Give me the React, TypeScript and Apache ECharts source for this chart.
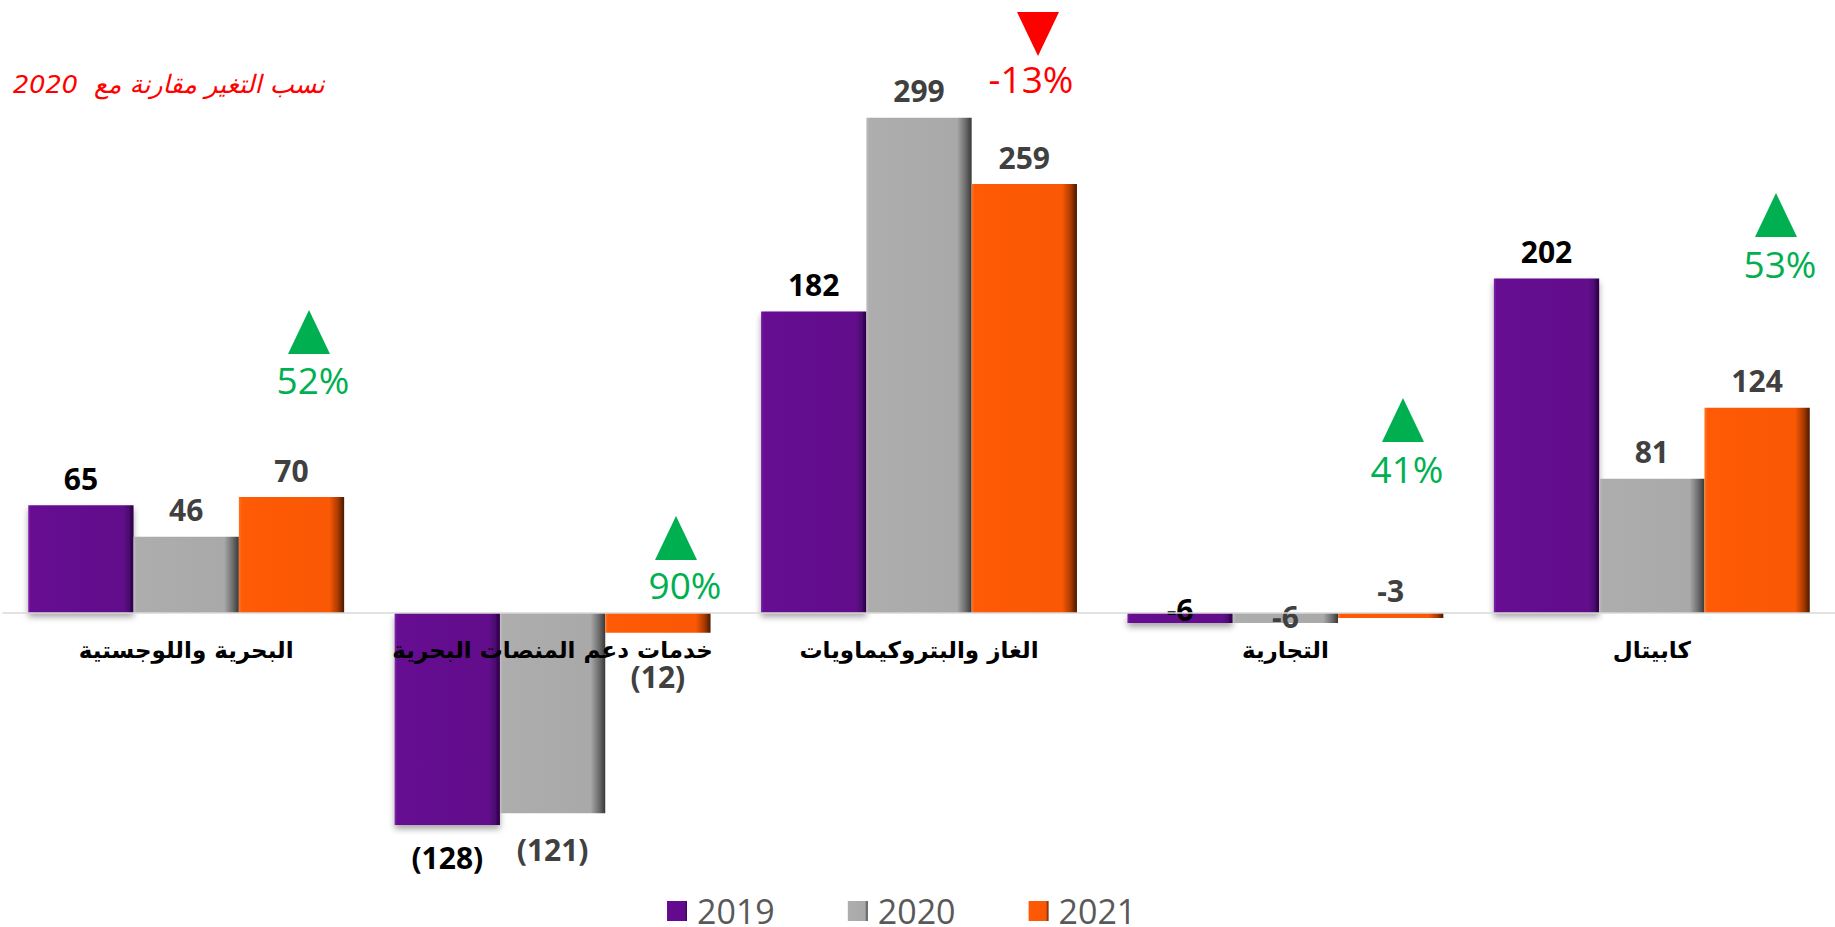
import React, { useEffect, useRef } from "react";
import * as echarts from "echarts";

const categories = [
  "البحرية واللوجستية",
  "خدمات دعم المنصات البحرية",
  "الغاز والبتروكيماويات",
  "التجارية",
  "كابيتال",
];
const seriesNames = ["2019", "2020", "2021"];
const values2019 = [65, -128, 182, -6, 202];
const values2020 = [46, -121, 299, -6, 81];
const values2021 = [70, -12, 259, -3, 124];
const changePct = [52, 90, -13, 41, 53];
const changeTitle = "نسب التغير مقارنة مع  2020";

const grad = (stops: [number, string][]) =>
  new echarts.graphic.LinearGradient(
    0, 0, 1, 0,
    stops.map(([offset, color]) => ({ offset, color }))
  );

const fills = [
  grad([[0, "#7d20ab"], [0.03, "#660a91"], [0.9, "#620a8c"], [0.96, "#47076b"], [1, "#2c0444"]]),
  grad([[0, "#bdbdbd"], [0.03, "#adadad"], [0.86, "#a9a9a9"], [0.94, "#6e6e6e"], [1, "#383838"]]),
  grad([[0, "#ff7526"], [0.03, "#ff5a05"], [0.86, "#fa5805"], [0.94, "#ab3b00"], [1, "#4a1800"]]),
];
const labelColors = ["#000000", "#404040", "#404040"];
const negDistance = [18, 21, 29];

// annotation layout (pixels): triangle centre x, triangle top, text centre x, text centre y
const annotLayout = [
  [309, 310, 313, 379],
  [676, 516, 685, 584],
  [1038, 12, 1031, 78],
  [1403, 398, 1407, 468],
  [1776, 193, 1780, 263],
];

function fmt(v: number) {
  return v <= -10 ? `(${Math.abs(v)})` : `${v}`;
}

function buildData(values: number[], si: number) {
  return values.map((v) => {
    let label: any;
    if (Math.abs(v) < 10 && v < 0) {
      if (si < 2) label = { position: "inside", offset: [0, si === 0 ? -8 : -1] };
      else label = { position: "top", distance: 7 };
    } else if (v < 0) {
      label = { position: "bottom", distance: negDistance[si] };
    } else {
      label = { position: "top", distance: 12 };
    }
    return { value: v, label };
  });
}

export default function App() {
  const ref = useRef<HTMLDivElement>(null);
  useEffect(() => {
    if (!ref.current) return;
    const chart = echarts.init(ref.current, undefined, { renderer: "svg" });
    const all = [values2019, values2020, values2021];

    const graphics: any[] = [
      {
        type: "text",
        left: 13,
        top: 71,
        style: {
          text: changeTitle,
          fill: "#ff0000",
          font: "italic 25.5px 'DejaVu Sans'",
        },
      },
    ];
    changePct.forEach((p, i) => {
      const [cx, top, tx, ty] = annotLayout[i];
      const up = p >= 0;
      const col = up ? "#00b050" : "#ff0000";
      const h = 44, hw = 21;
      const pts = up
        ? [[cx, top], [cx + hw, top + h], [cx - hw, top + h]]
        : [[cx - hw, top], [cx + hw, top], [cx, top + h]];
      graphics.push({ type: "polygon", shape: { points: pts }, style: { fill: col } });
      graphics.push({
        type: "text",
        x: tx,
        y: ty,
        style: {
          text: `${p}%`,
          fill: col,
          font: "37px 'Open Sans'",
          textAlign: "center",
          textVerticalAlign: "middle",
        },
      });
    });

    chart.setOption({
      animation: false,
      backgroundColor: "#ffffff",
      grid: { left: 3, top: 66.5, width: 1845.5, height: 794.9, containLabel: false },
      legend: {
        data: seriesNames,
        left: 667,
        top: 894,
        icon: "rect",
        itemWidth: 20,
        itemHeight: 20,
        itemGap: 73,
        padding: 0,
        textStyle: {
          fontSize: 34,
          lineHeight: 28,
          color: "#595959",
          fontFamily: "'Open Sans'",
          padding: [0, 0, 0, 5],
        },
      },
      xAxis: {
        type: "category",
        data: categories,
        z: 10,
        axisTick: { show: false },
        axisLine: { onZero: true, lineStyle: { color: "#d9d9d9", width: 1.5 } },
        axisLabel: {
          color: "#000000",
          fontWeight: "bold",
          fontSize: 23,
          fontFamily: "'DejaVu Sans'",
          margin: -223,
          interval: 0,
        },
      },
      yAxis: {
        type: "value",
        min: -150,
        max: 330,
        show: false,
        splitLine: { show: false },
      },
      series: seriesNames.map((name, si) => ({
        name,
        type: "bar",
        barWidth: 105.3,
        barGap: "0%",
        data: buildData(all[si], si),
        itemStyle: {
          color: fills[si],
          ...(si === 0
            ? { shadowColor: "rgba(0,0,0,0.35)", shadowBlur: 6, shadowOffsetY: 4 }
            : {}),
        },
        label: {
          show: true,
          color: labelColors[si],
          fontSize: 30,
          fontWeight: "bold",
          fontFamily: "'Open Sans'",
          formatter: (p: any) => fmt(p.value),
        },
      })),
      graphic: graphics,
    });
    return () => chart.dispose();
  }, []);
  return (
    <div
      ref={ref}
      style={{ position: "fixed", left: 0, top: 0, width: 1835, height: 927, background: "#fff" }}
    />
  );
}
